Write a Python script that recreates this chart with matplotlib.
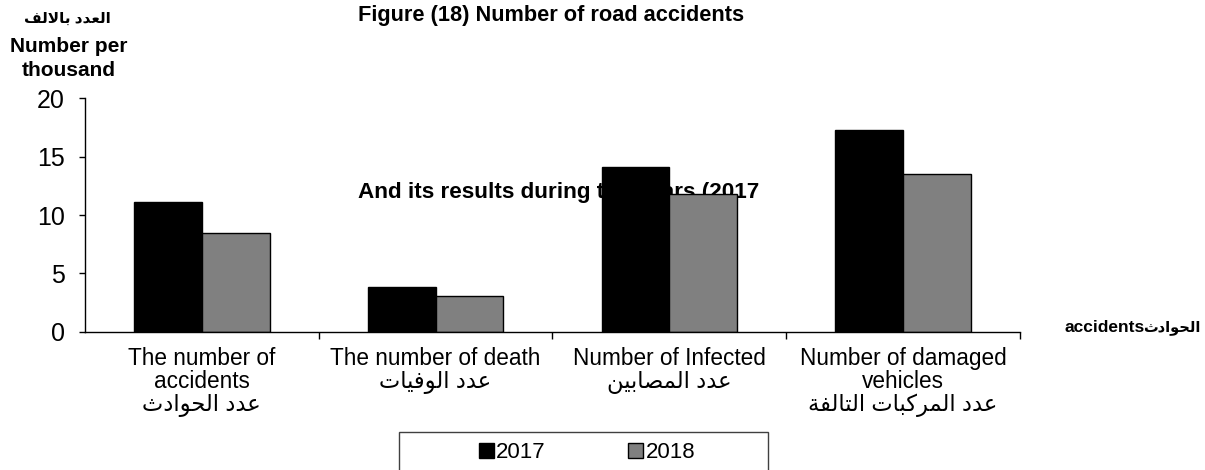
import matplotlib
matplotlib.use('Agg')
import matplotlib.pyplot as plt
from matplotlib.patches import Rectangle
import numpy as np

plt.rcParams['font.family'] = ['Liberation Sans', 'DejaVu Sans']

# data (thousands)
categories_en = ["The number of\naccidents", "The number of death",
                 "Number of Infected", "Number of damaged\nvehicles"]
categories_ar = ["عدد الحوادث", "عدد الوفيات", "عدد المصابين", "عدد المركبات التالفة"]
years = ["2017", "2018"]
values_2017 = [11.1, 3.8, 14.1, 17.3]
values_2018 = [8.5, 3.1, 11.8, 13.5]
y_ticks = [0, 5, 10, 15, 20]

title1 = "Figure (18) Number of road accidents"
title2 = "And its results during the years (2017"
ylabel_ar = "العدد بالالف"
ylabel_en = "Number per\nthousand"
xlabel_ar = "الحوادث"
xlabel_en = "accidents"

# matplotlib has no arabic shaping, so map letters to presentation forms
# (isolated, final, initial, medial) and reverse for visual order
forms = {
    'ا': (0xFE8D, 0xFE8E, None, None), 'ب': (0xFE8F, 0xFE90, 0xFE91, 0xFE92),
    'ة': (0xFE93, 0xFE94, None, None), 'ت': (0xFE95, 0xFE96, 0xFE97, 0xFE98),
    'ث': (0xFE99, 0xFE9A, 0xFE9B, 0xFE9C), 'ح': (0xFEA1, 0xFEA2, 0xFEA3, 0xFEA4),
    'د': (0xFEA9, 0xFEAA, None, None), 'ر': (0xFEAD, 0xFEAE, None, None),
    'ص': (0xFEB9, 0xFEBA, 0xFEBB, 0xFEBC), 'ع': (0xFEC9, 0xFECA, 0xFECB, 0xFECC),
    'ف': (0xFED1, 0xFED2, 0xFED3, 0xFED4), 'ق': (0xFED5, 0xFED6, 0xFED7, 0xFED8),
    'ك': (0xFED9, 0xFEDA, 0xFEDB, 0xFEDC), 'ل': (0xFEDD, 0xFEDE, 0xFEDF, 0xFEE0),
    'م': (0xFEE1, 0xFEE2, 0xFEE3, 0xFEE4), 'ن': (0xFEE5, 0xFEE6, 0xFEE7, 0xFEE8),
    'و': (0xFEED, 0xFEEE, None, None), 'ي': (0xFEF1, 0xFEF2, 0xFEF3, 0xFEF4),
}

def dual(c):
    return c in forms and forms[c][2] is not None

def shape(text):
    out = []
    i = 0
    while i < len(text):
        c = text[i]
        if c not in forms:
            out.append(c)
            i += 1
            continue
        prev = text[i-1] if i > 0 else ''
        joins_prev = dual(prev) and out and out[-1] != ' '
        if c == 'ل' and i + 1 < len(text) and text[i+1] == 'ا':
            out.append(chr(0xFEFC if joins_prev else 0xFEFB))
            i += 2
            continue
        nxt = text[i+1] if i + 1 < len(text) else ''
        joins_next = dual(c) and nxt in forms
        f = forms[c]
        if joins_prev and joins_next:
            code = f[3]
        elif joins_prev:
            code = f[1]
        elif joins_next:
            code = f[2]
        else:
            code = f[0]
        out.append(chr(code))
        i += 1
    return ''.join(out[::-1])

fig = plt.figure(figsize=(12.05, 4.70), dpi=100)
ax = fig.add_axes([0.0705, 0.2943, 0.776, 0.4965])

x = np.arange(len(categories_en))
w = 0.29
ax.bar(x - w/2, values_2017, w, color='black', edgecolor='black', linewidth=1, label=years[0], zorder=2)
ax.bar(x + w/2, values_2018, w, color='#808080', edgecolor='black', linewidth=1, label=years[1], zorder=2)

ax.set_xlim(-0.5, len(categories_en) - 0.5)
ax.set_ylim(0, 20)
ax.set_yticks(y_ticks)
ax.tick_params(axis='y', labelsize=18, length=4.5, width=1, pad=10, direction='out')

labels = [en + "\n" + shape(ar) for en, ar in zip(categories_en, categories_ar)]
ax.set_xticks(x)
ax.set_xticklabels(labels, fontsize=16.3, linespacing=1.0, va='top')
ax.tick_params(axis='x', which='major', length=0, pad=11)
ax.set_xticks(np.arange(len(categories_en)) + 0.5, minor=True)
ax.tick_params(axis='x', which='minor', length=5, width=1, direction='out')

for s in ['top', 'right']:
    ax.spines[s].set_visible(False)
ax.spines['left'].set_linewidth(1)
ax.spines['bottom'].set_linewidth(1)

# second title line sits behind the bars
ax.text(1.526, 11.9, title2, fontsize=16.2, fontweight='bold', ha='center', va='center', zorder=1)

fig.text(0.457, 0.968, title1, fontsize=15.7, fontweight='bold', ha='center', va='center')
fig.text(0.056, 0.96, shape(ylabel_ar), fontsize=11, fontweight='bold', ha='center', va='center')
fig.text(0.057, 0.876, ylabel_en, fontsize=15, fontweight='bold', ha='center', va='center', linespacing=1.3)
fig.text(1145/1205, 0.304, xlabel_en, fontsize=12.5, fontweight='bold', ha='right', va='center')
fig.text(1200/1205, 0.304, shape(xlabel_ar), fontsize=10.5, fontweight='bold', ha='right', va='center')

# legend box runs off the bottom edge
fig.patches.append(Rectangle((399/1205, -0.05), 369/1205, 0.05 + 38/470, transform=fig.transFigure,
                             fill=False, edgecolor='#404040', linewidth=1))
leg = fig.legend(loc='center', bbox_to_anchor=(587/1205, 1 - 453/470), ncol=2, fontsize=16,
                 frameon=False, handlelength=0.68, handleheight=0.68, handletextpad=0.1,
                 columnspacing=3.7, borderpad=0, borderaxespad=0)

fig.savefig("out.png", dpi=100)
